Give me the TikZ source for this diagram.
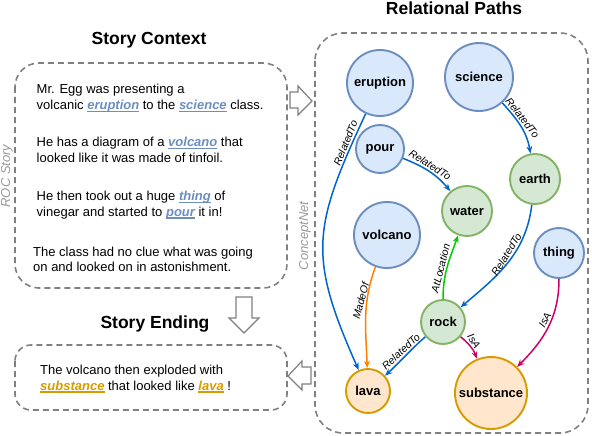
\documentclass[tikz,border=0pt]{standalone}
\usepackage{fontspec}
\setmainfont{Liberation Sans}
\usepackage{xcolor}
\usetikzlibrary{arrows.meta,positioning,shapes,calc}

\definecolor{nodeblue}{HTML}{DAE8FC}
\definecolor{lineblue}{HTML}{6C8EBF}
\definecolor{nodegreen}{HTML}{D5E8D4}
\definecolor{linegreen}{HTML}{82B366}
\definecolor{nodeorange}{HTML}{FFE6CC}
\definecolor{lineorange}{HTML}{D79B00}
\definecolor{relblue}{HTML}{0066CC}
\definecolor{relorange}{HTML}{FF8000}
\definecolor{relgreen}{HTML}{00CC00}
\definecolor{relpink}{HTML}{CC0066}
\definecolor{boxgray}{HTML}{808080}

% highlighted story word
\newcommand{\kw}[2]{{\color{#1}\setbox0\hbox{\bfseries\itshape #2}\rlap{\rule[-2.6pt]{\wd0}{1.3pt}}\box0}}

\begin{document}
\begin{tikzpicture}[x=1pt, y=-1pt,
    concept/.style={circle, line width=1.9pt, inner sep=0pt, font=\fontsize{13}{15}\selectfont\bfseries},
    cblue/.style={concept, draw=lineblue, fill=nodeblue},
    cgreen/.style={concept, draw=linegreen, fill=nodegreen},
    corange/.style={concept, draw=lineorange, fill=nodeorange},
    rel/.style={-{Stealth[length=2.6mm, width=2.1mm]}, line width=1.5pt},
    lbl/.style={font=\fontsize{10.5}{12}\selectfont\itshape, anchor=south, inner sep=1.5pt, text=black},
    dbox/.style={draw=boxgray, line width=1.6pt, dash pattern=on 6pt off 4pt},
    title/.style={font=\fontsize{17.5}{20}\selectfont\bfseries, anchor=base},
    story/.style={font=\fontsize{13}{15.6}\selectfont, align=left, anchor=base west, inner sep=0pt},
    side/.style={font=\fontsize{13}{15}\selectfont\itshape, text=boxgray!80, rotate=90, inner sep=0pt},
    hollow/.style={draw=boxgray, line width=1.2pt, fill=white}
]
    \useasboundingbox (0,0) rectangle (592,436);

    % titles
    \node[title] (ctxtitle) at (149,45) {Story Context};
    \node[title] (reltitle) at (454,15) {Relational Paths};
    \node[title] (endtitle) at (155,328) {Story Ending};

    % panels
    \draw[dbox, rounded corners=24pt] (15,63) rectangle (287,288);
    \draw[dbox, rounded corners=16pt] (15,345) rectangle (287,410);
    \draw[dbox, rounded corners=28pt] (315,33) rectangle (588,433);
    \node[side] (roc) at (7,176) {ROC Story};
    \node[side] (cnet) at (305,236) {ConceptNet};

    % story context (anchored on the last line)
    \node[story] (ctxa) at (36.5,109.5) {Mr. Egg was presenting a\\volcanic \kw{lineblue}{eruption} to the \kw{lineblue}{science} class.};
    \node[story] (ctxb) at (36.5,162.3) {He has a diagram of a \kw{lineblue}{volcano} that\\looked like it was made of tinfoil.};
    \node[story] (ctxc) at (36.5,216) {He then took out a huge \kw{lineblue}{thing} of\\vinegar and started to \kw{lineblue}{pour} it in!};
    \node[story] (ctxd) at (33,271.7) {The class had no clue what was going\\on and looked on in astonishment.};

    % story ending
    \node[story] (enda) at (40,390) {The volcano then exploded with\\\kw{lineorange}{substance} that looked like \kw{lineorange}{lava} !};

    % hollow arrows between panels
    \draw[hollow] (290,92) -- (298,92) -- (298,86) -- (312,101) -- (298,115) -- (298,108) -- (290,108) -- cycle;
    \draw[hollow] (236,297) -- (252,297) -- (252,318) -- (259,318) -- (244,333) -- (229,318) -- (236,318) -- cycle;
    \draw[hollow] (311,367) -- (302,367) -- (302,361) -- (288,376) -- (302,390) -- (302,384) -- (311,384) -- cycle;

    % concepts
    \node[cblue, minimum size=66pt] (eruption) at (380,83) {eruption};
    \node[cblue, minimum size=68pt] (science) at (479,77) {science};
    \node[cblue, minimum size=48pt] (pour) at (380,149) {pour};
    \node[cblue, minimum size=66pt] (volcano) at (387,235) {volcano};
    \node[cblue, minimum size=50pt] (thing) at (559,253) {thing};
    \node[cgreen, minimum size=50pt] (earth) at (535,179) {earth};
    \node[cgreen, minimum size=50pt] (water) at (467,211) {water};
    \node[cgreen, minimum size=44pt] (rock) at (443,322) {rock};
    \node[corange, minimum size=44pt] (lava) at (368,391) {lava};
    \node[corange, minimum size=72pt] (substance) at (491,393) {substance};

    % relations
    \draw[rel, relblue] (eruption) to[out=-115, in=114, looseness=1.25] node[lbl, pos=0.1, rotate=68] {RelatedTo} (lava);
    \draw[rel, relblue] (science) to[out=-48, in=100] node[lbl, pos=0.4, rotate=-52] {RelatedTo} (earth);
    \draw[rel, relblue] (pour) to[out=-22, in=130] node[lbl, pos=0.45, rotate=-33] {RelatedTo} (water);
    \draw[rel, relblue] (earth) to[out=-97, in=40] node[lbl, pos=0.45, rotate=58] {RelatedTo} (rock);
    \draw[rel, relorange] (volcano) to[out=-110, in=92] node[lbl, pos=0.35, rotate=75] {MadeOf} (lava);
    \draw[rel, relgreen] (rock) to[out=90, in=-110] node[lbl, pos=0.45, rotate=76] {AtLocation} (water);
    \draw[rel, relblue] (rock) to[out=-140, in=42, looseness=0.7] node[lbl, pos=0.5, rotate=43] {RelatedTo} (lava);
    \draw[rel, relpink] (rock) to[out=-40, in=112] node[lbl, pos=0.4, rotate=-58] {IsA} (substance);
    \draw[rel, relpink] (thing) to[out=-90, in=45] node[lbl, pos=0.45, rotate=62] {IsA} (substance);
\end{tikzpicture}
\end{document}
